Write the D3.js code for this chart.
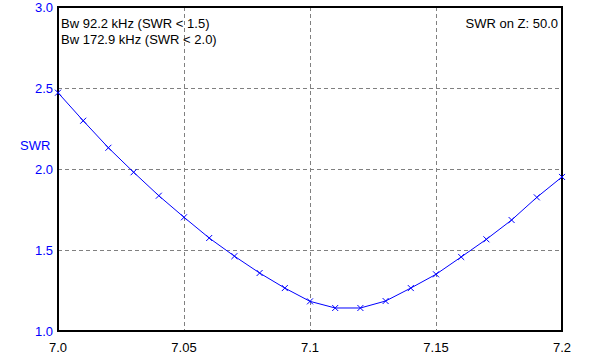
<!DOCTYPE html>
<html>
<head>
<meta charset="utf-8">
<script src="https://cdn.jsdelivr.net/npm/d3@7"></script>
<style>
  body { margin: 0; background: #fff; }
  svg { display: block; font-family: Arial, "Liberation Sans", sans-serif; font-size: 13px; }
</style>
</head>
<body>
<div id="chart"></div>
<script>
// frequency (MHz) and SWR
const freqs = [7.00, 7.01, 7.02, 7.03, 7.04, 7.05, 7.06, 7.07, 7.08, 7.09, 7.10,
               7.11, 7.12, 7.13, 7.14, 7.15, 7.16, 7.17, 7.18, 7.19, 7.20];
const swr = [2.471, 2.298, 2.131, 1.98, 1.835, 1.702, 1.574, 1.462, 1.358, 1.265, 1.183,
             1.142, 1.142, 1.185, 1.265, 1.35, 1.457, 1.566, 1.685, 1.825, 1.951];
const xTicks = [7.0, 7.05, 7.1, 7.15, 7.2];
const xTickLabels = ['7.0', '7.05', '7.1', '7.15', '7.2'];
const yTicks = [1.0, 1.5, 2.0, 2.5, 3.0];
const infoLines = ['Bw 92.2 kHz (SWR < 1.5)', 'Bw 172.9 kHz (SWR < 2.0)'];
const zLabel = 'SWR on Z: 50.0';

const width = 593;
const height = 359;
const margin = { top: 7, right: 31, bottom: 28, left: 58 };

const svg = d3.select('#chart')
  .append('svg')
  .attr('width', width)
  .attr('height', height);

const xScale = d3.scaleLinear()
  .domain([7.0, 7.2])
  .range([margin.left, width - margin.right]);

const yScale = d3.scaleLinear()
  .domain([1.0, 3.0])
  .range([height - margin.bottom, margin.top]);

// dashed grid
const grid = svg.append('g').attr('class', 'grid');
grid.selectAll('line.v')
  .data(xTicks.slice(1, -1))
  .join('line')
  .attr('class', 'v')
  .attr('x1', d => Math.round(xScale(d)) + 0.5)
  .attr('x2', d => Math.round(xScale(d)) + 0.5)
  .attr('y1', yScale(3.0))
  .attr('y2', yScale(1.0))
  .attr('stroke', '#808080')
  .attr('stroke-dasharray', '4,3');

grid.selectAll('line.h')
  .data(yTicks.slice(1, -1))
  .join('line')
  .attr('class', 'h')
  .attr('y1', d => Math.round(yScale(d)) + 0.5)
  .attr('y2', d => Math.round(yScale(d)) + 0.5)
  .attr('x1', xScale(7.0))
  .attr('x2', xScale(7.2))
  .attr('stroke', '#808080')
  .attr('stroke-dasharray', '4,3');

// frame
svg.append('rect')
  .attr('x', xScale(7.0))
  .attr('y', yScale(3.0))
  .attr('width', xScale(7.2) - xScale(7.0))
  .attr('height', yScale(1.0) - yScale(3.0))
  .attr('fill', 'none')
  .attr('stroke', '#000')
  .attr('stroke-width', 2);

// x axis labels
svg.append('g')
  .selectAll('text')
  .data(xTicks)
  .join('text')
  .attr('x', d => xScale(d))
  .attr('y', height - 7)
  .attr('text-anchor', 'middle')
  .attr('fill', '#000')
  .text((d, i) => xTickLabels[i]);

// y axis labels
svg.append('g')
  .selectAll('text')
  .data(yTicks)
  .join('text')
  .attr('x', margin.left - 5)
  .attr('y', d => yScale(d) + 5)
  .attr('text-anchor', 'end')
  .attr('fill', '#0000ff')
  .text(d => d.toFixed(1));

svg.append('text')
  .attr('x', 20)
  .attr('y', 150)
  .attr('fill', '#0000ff')
  .text('SWR');

// SWR curve
const pts = freqs.map((f, i) => ({ f, s: swr[i] }));

svg.append('path')
  .datum(pts)
  .attr('fill', 'none')
  .attr('stroke', '#0000ff')
  .attr('stroke-width', 1)
  .attr('d', d3.line().x(d => xScale(d.f)).y(d => yScale(d.s)));

// x markers
const m = 3;
svg.append('g')
  .selectAll('path')
  .data(pts)
  .join('path')
  .attr('fill', 'none')
  .attr('stroke', '#0000ff')
  .attr('d', d => {
    const x = xScale(d.f), y = yScale(d.s);
    return `M${x - m},${y - m}L${x + m},${y + m}M${x - m},${y + m}L${x + m},${y - m}`;
  });

// annotations
svg.append('g')
  .selectAll('text')
  .data(infoLines)
  .join('text')
  .attr('x', 61)
  .attr('y', (d, i) => 28 + i * 16)
  .attr('fill', '#000')
  .text(d => d);

svg.append('text')
  .attr('x', 558)
  .attr('y', 28)
  .attr('text-anchor', 'end')
  .attr('fill', '#000')
  .text(zLabel);
</script>
</body>
</html>
